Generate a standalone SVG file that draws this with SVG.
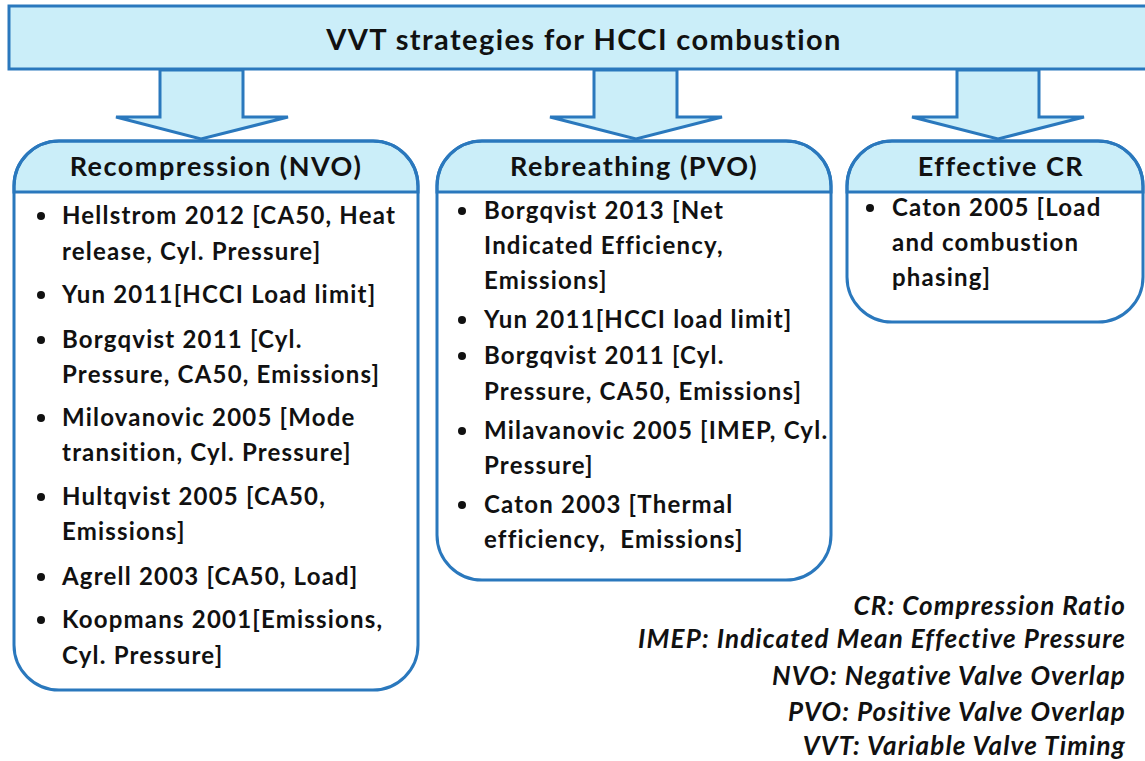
<svg xmlns="http://www.w3.org/2000/svg" width="1145" height="761" viewBox="0 0 1145 761">
<style>
.shape{fill:#cbeef9;stroke:#2a78bd;stroke-width:3;stroke-linejoin:miter}
.body{fill:#ffffff;stroke:none}
.outline{fill:none;stroke:#2a78bd;stroke-width:3}
.title{font-family:Lato,"Open Sans",sans-serif;font-weight:bold;font-size:29px;letter-spacing:1.4px;fill:#111;text-anchor:middle}
.head{font-family:Lato,"Open Sans",sans-serif;font-weight:bold;font-size:27px;letter-spacing:1.5px;fill:#111;text-anchor:middle}
.item{font-family:Lato,"Open Sans",sans-serif;font-weight:bold;font-size:24px;letter-spacing:1.2px;fill:#111}
.legend{font-family:Lato,"Open Sans",sans-serif;font-weight:bold;font-style:italic;font-size:26px;letter-spacing:1.15px;fill:#111;text-anchor:end}
.dot{fill:#111}
</style>
<rect width="1145" height="761" fill="#ffffff"/>
<g id="connectors">
<polygon class="shape" points="160,70 243,70 243,117 288,117 201,139 116,117 160,117"/>
<polygon class="shape" points="594,70 677,70 677,117 722,117 636,139 550,117 594,117"/>
<polygon class="shape" points="957,70 1039,70 1039,117 1084,117 998,139 912,117 957,117"/>
</g>
<g id="title">
<rect class="shape" x="9" y="6" width="1150" height="63"/>
<text class="title" x="584" y="50">VVT strategies for HCCI combustion</text>
</g>
<g id="recompression">
<path class="body" d="M59,141 H373 A45,45 0 0 1 418,186 V645 A45,45 0 0 1 373,690 H59 A45,45 0 0 1 14,645 V186 A45,45 0 0 1 59,141 Z"/>
<path class="shape" d="M14,192 V186 A45,45 0 0 1 59,141 H373 A45,45 0 0 1 418,186 V192 Z"/>
<path class="outline" d="M59,141 H373 A45,45 0 0 1 418,186 V645 A45,45 0 0 1 373,690 H59 A45,45 0 0 1 14,645 V186 A45,45 0 0 1 59,141 Z"/>
<text class="head" x="216" y="176">Recompression (NVO)</text>
<circle class="dot" cx="41" cy="216" r="4"/>
<text class="item" x="62" y="224">Hellstrom 2012 [CA50, Heat</text>
<text class="item" x="62" y="260">release, Cyl. Pressure]</text>
<circle class="dot" cx="41" cy="295" r="4"/>
<text class="item" x="62" y="303">Yun 2011[HCCI Load limit]</text>
<circle class="dot" cx="41" cy="340" r="4"/>
<text class="item" x="62" y="348">Borgqvist 2011 [Cyl.</text>
<text class="item" x="62" y="383">Pressure, CA50, Emissions]</text>
<circle class="dot" cx="41" cy="418" r="4"/>
<text class="item" x="62" y="426">Milovanovic 2005 [Mode</text>
<text class="item" x="62" y="461">transition, Cyl. Pressure]</text>
<circle class="dot" cx="41" cy="497" r="4"/>
<text class="item" x="62" y="505">Hultqvist 2005 [CA50,</text>
<text class="item" x="62" y="540">Emissions]</text>
<circle class="dot" cx="41" cy="577" r="4"/>
<text class="item" x="62" y="585">Agrell 2003 [CA50, Load]</text>
<circle class="dot" cx="41" cy="620" r="4"/>
<text class="item" x="62" y="628">Koopmans 2001[Emissions,</text>
<text class="item" x="62" y="664">Cyl. Pressure]</text>
</g>
<g id="rebreathing">
<path class="body" d="M482,141 H786 A45,45 0 0 1 831,186 V535 A45,45 0 0 1 786,580 H482 A45,45 0 0 1 437,535 V186 A45,45 0 0 1 482,141 Z"/>
<path class="shape" d="M437,192 V186 A45,45 0 0 1 482,141 H786 A45,45 0 0 1 831,186 V192 Z"/>
<path class="outline" d="M482,141 H786 A45,45 0 0 1 831,186 V535 A45,45 0 0 1 786,580 H482 A45,45 0 0 1 437,535 V186 A45,45 0 0 1 482,141 Z"/>
<text class="head" x="634" y="176">Rebreathing (PVO)</text>
<circle class="dot" cx="462" cy="211" r="4"/>
<text class="item" x="484" y="219">Borgqvist 2013 [Net</text>
<text class="item" x="484" y="254">Indicated Efficiency,</text>
<text class="item" x="484" y="289">Emissions]</text>
<circle class="dot" cx="462" cy="320" r="4"/>
<text class="item" x="484" y="328">Yun 2011[HCCI load limit]</text>
<circle class="dot" cx="462" cy="356" r="4"/>
<text class="item" x="484" y="364">Borgqvist 2011 [Cyl.</text>
<text class="item" x="484" y="400">Pressure, CA50, Emissions]</text>
<circle class="dot" cx="462" cy="431" r="4"/>
<text class="item" x="484" y="439">Milavanovic 2005 [IMEP, Cyl.</text>
<text class="item" x="484" y="474">Pressure]</text>
<circle class="dot" cx="462" cy="505" r="4"/>
<text class="item" x="484" y="513">Caton 2003 [Thermal</text>
<text class="item" x="484" y="548" xml:space="preserve">efficiency,  Emissions]</text>
</g>
<g id="effective-cr">
<path class="body" d="M892,141 H1098 A45,45 0 0 1 1143,186 V277 A45,45 0 0 1 1098,322 H892 A45,45 0 0 1 847,277 V186 A45,45 0 0 1 892,141 Z"/>
<path class="shape" d="M847,192 V186 A45,45 0 0 1 892,141 H1098 A45,45 0 0 1 1143,186 V192 Z"/>
<path class="outline" d="M892,141 H1098 A45,45 0 0 1 1143,186 V277 A45,45 0 0 1 1098,322 H892 A45,45 0 0 1 847,277 V186 A45,45 0 0 1 892,141 Z"/>
<text class="head" x="1001" y="176">Effective CR</text>
<circle class="dot" cx="870" cy="208" r="4"/>
<text class="item" x="892" y="216">Caton 2005 [Load</text>
<text class="item" x="892" y="251">and combustion</text>
<text class="item" x="892" y="286">phasing]</text>
</g>
<g id="legend">
<text class="legend" x="1126" y="615">CR: Compression Ratio</text>
<text class="legend" x="1126" y="648">IMEP: Indicated Mean Effective Pressure</text>
<text class="legend" x="1126" y="685">NVO: Negative Valve Overlap</text>
<text class="legend" x="1126" y="721">PVO: Positive Valve Overlap</text>
<text class="legend" x="1126" y="755">VVT: Variable Valve Timing</text>
</g>
</svg>
